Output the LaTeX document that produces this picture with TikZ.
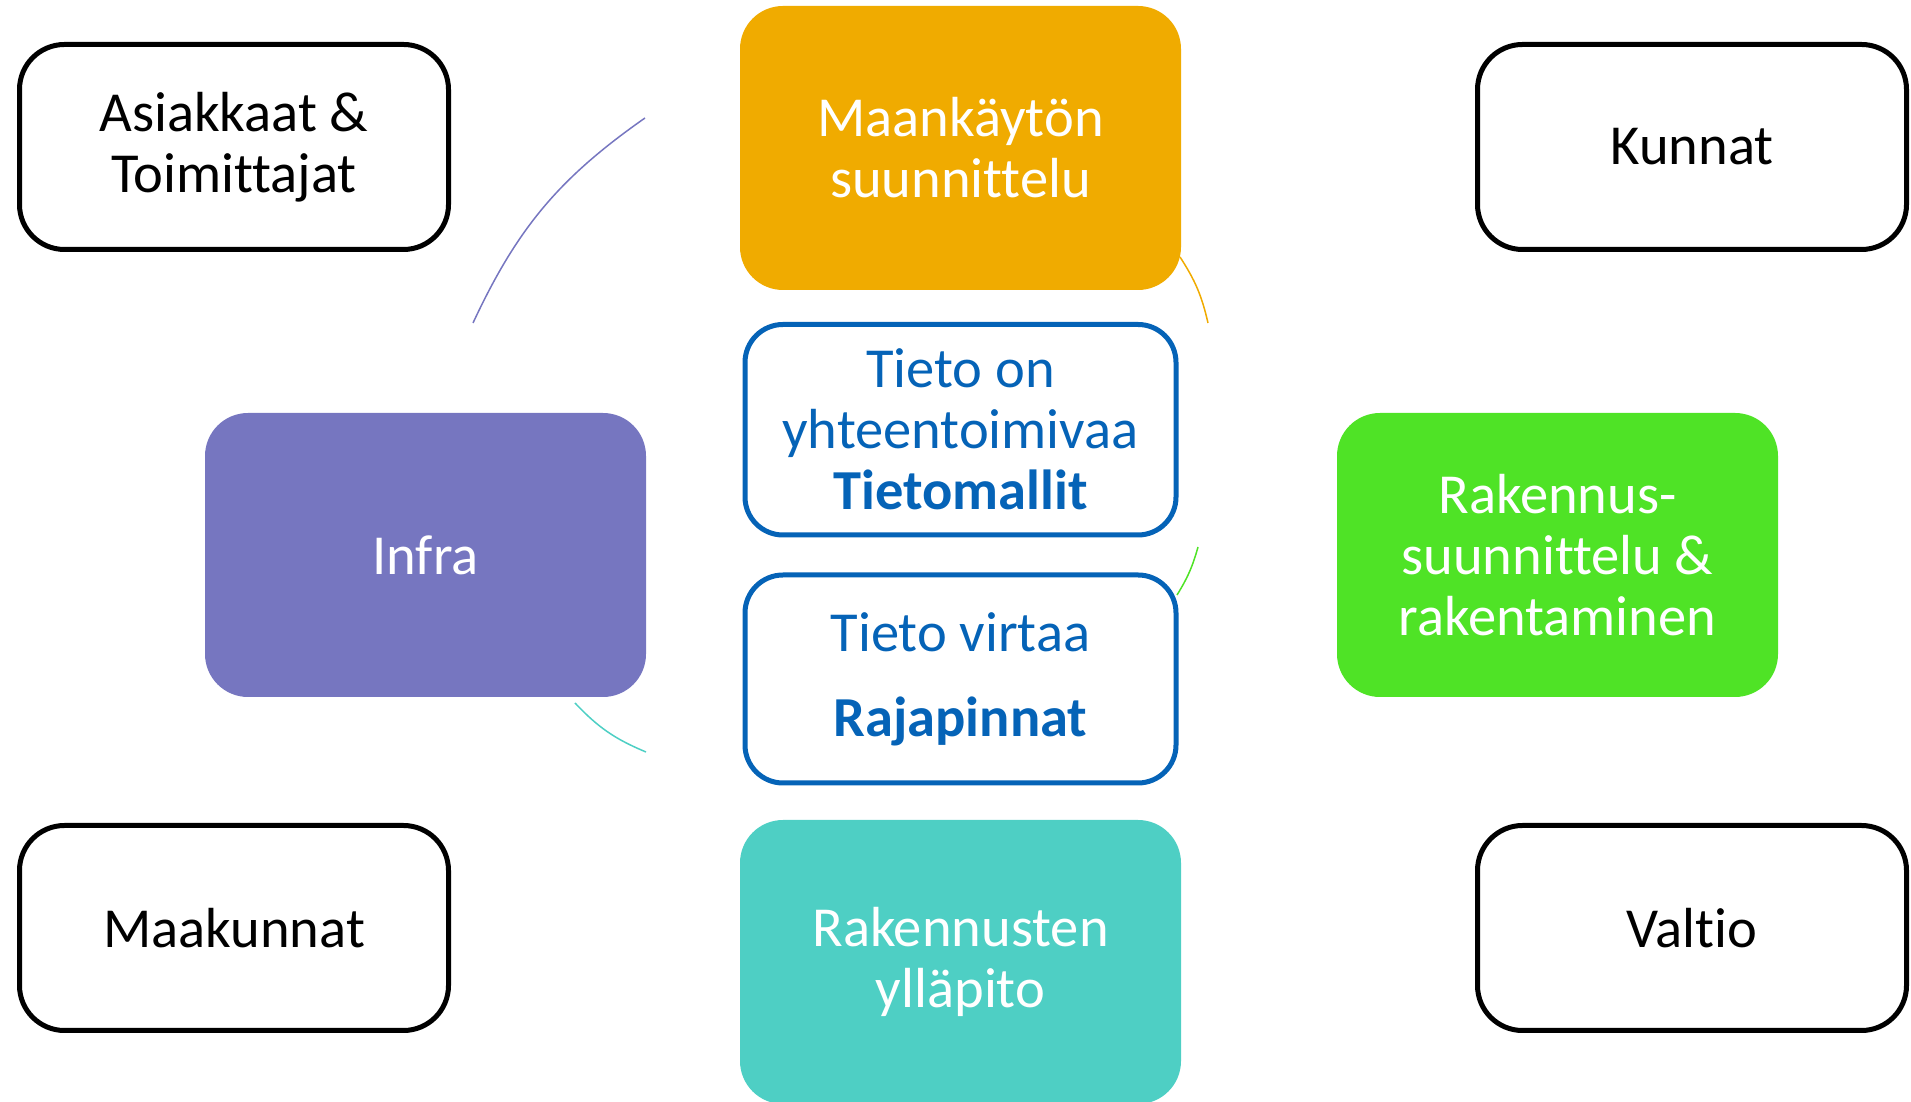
\documentclass[tikz,border=0pt]{standalone}
\usepackage{fontspec}
\setmainfont{Carlito}[Ligatures=NoCommon]
\usetikzlibrary{positioning}
\definecolor{landorange}{RGB}{240,171,0}
\definecolor{infrapurple}{RGB}{118,118,192}
\definecolor{buildgreen}{RGB}{79,227,38}
\definecolor{upkeepteal}{RGB}{78,207,196}
\definecolor{coreblue}{RGB}{5,99,183}

\begin{document}
\begin{tikzpicture}[
    x = 1pt, y = 1pt,
    node distance = 34.5pt,
    every node/.style = {align=center, outer sep=0pt, font=\fontsize{56.5}{61}\selectfont},
    party/.style = {draw, line width=5pt, rounded corners=45pt, minimum width=429pt, minimum height=205pt},
    phase/.style = {rounded corners=43pt, minimum width=441pt, minimum height=284pt, text=white},
    core/.style = {draw=coreblue, line width=5pt, rounded corners=38pt, minimum width=431pt, text=coreblue},
    link/.style = {line width=1.5pt}
]
\useasboundingbox (0,0) rectangle (1911,1102);

% Parties
\node[party] (asiakkaat) at (234,955) {Asiakkaat \&\\Toimittajat};
\node[party] (kunnat) at (1692,955) {Kunnat};
\node[party] (maakunnat) at (234,174) {Maakunnat};
\node[party] (valtio) at (1692,174) {Valtio};

% Phases and the core
\node[phase, fill=landorange] (land) at (960.5,954) {Maankäytön\\suunnittelu};
\node[core, minimum height=210.5pt] (model) [below=of land] {Tieto on\\yhteentoimivaa\\\textbf{Tietomallit}};
\node[core, minimum height=208pt] (flow) [below=40pt of model] {Tieto virtaa\\[24pt]\textbf{Rajapinnat}};
\node[phase, fill=upkeepteal] (upkeep) [below=37pt of flow] {Rakennusten\\ylläpito};
\node[phase, fill=infrapurple] (infra) at (425.5,547) {Infra};
\node[phase, fill=buildgreen] (build) at (1557.5,547) {Rakennus-\\suunnittelu \&\\rakentaminen};

% Cycle arcs
\coordinate (infratop) at (645,984);
\coordinate (infrabot) at (473,779);
\coordinate (landtop) at (1180,845);
\coordinate (landbot) at (1208,779);
\coordinate (buildtop) at (1198,555);
\coordinate (buildbot) at (1177,507);
\coordinate (upkeeptop) at (575,399);
\coordinate (upkeepbot) at (646,350);

\draw[link, infrapurple] (infratop) to[bend right=15] (infrabot);
\draw[link, landorange] (landtop) to[bend left=10] (landbot);
\draw[link, buildgreen] (buildtop) to[bend left=8] (buildbot);
\draw[link, upkeepteal] (upkeeptop) to[bend right=12] (upkeepbot);

\end{tikzpicture}
\end{document}
